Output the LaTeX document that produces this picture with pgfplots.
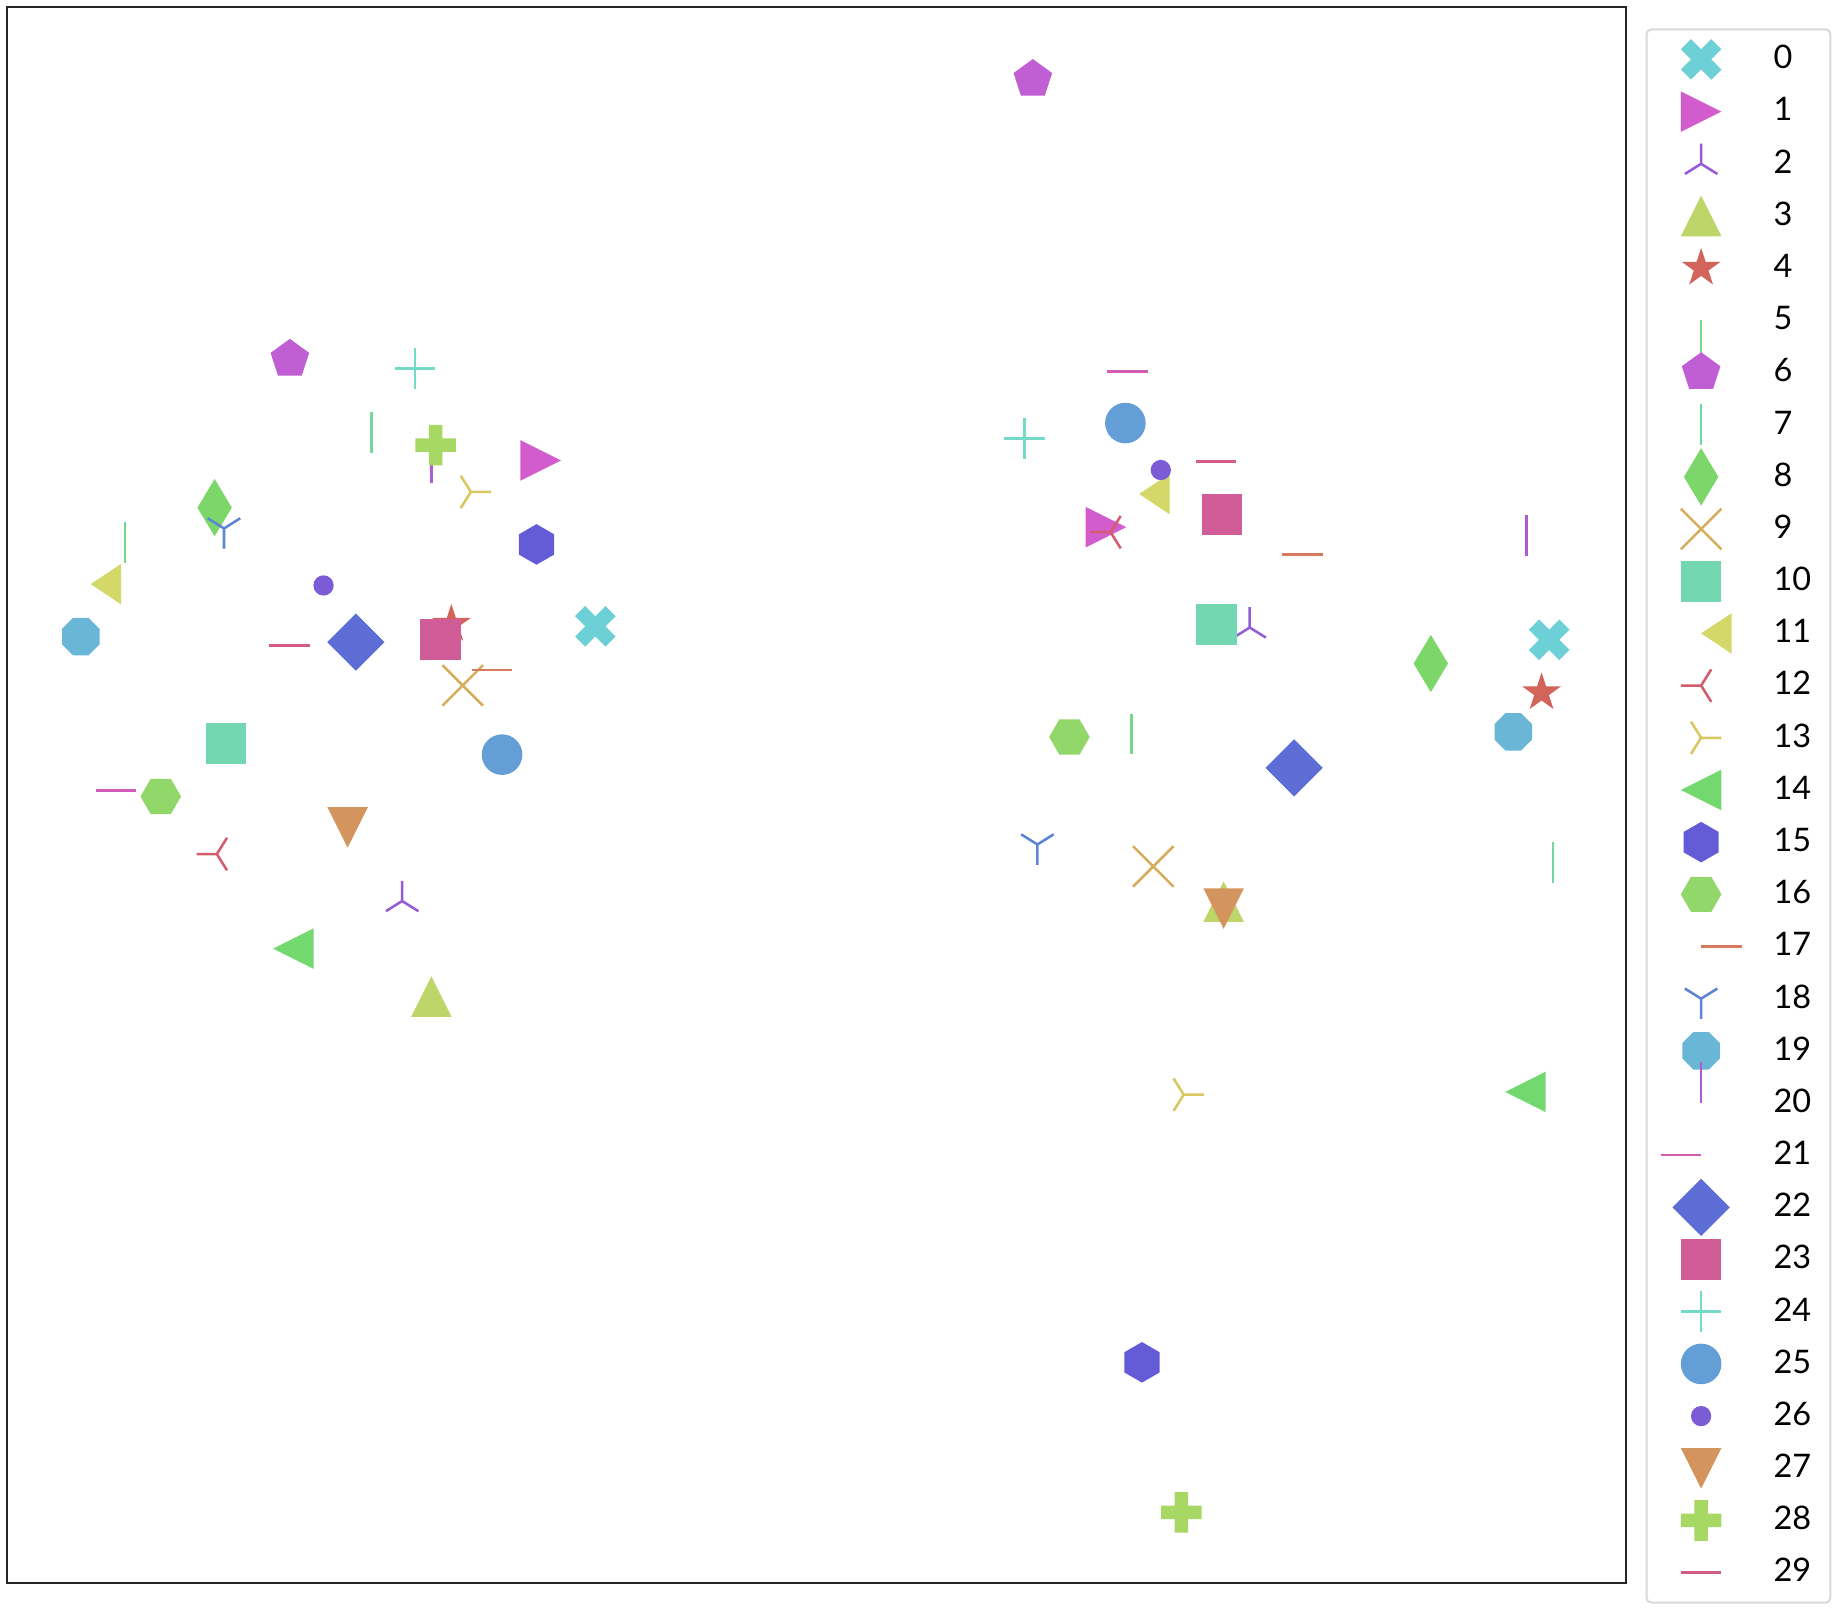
\documentclass[border=0pt]{standalone}
\usepackage{fontspec}
\setmainfont{Lato}
\usepackage{pgfplots}
\pgfplotsset{compat=1.18}

% hls palette, 30 hues
\definecolor{c0}{RGB}{110,208,215}
\definecolor{c1}{RGB}{210,92,205}
\definecolor{c2}{RGB}{148,92,214}
\definecolor{c3}{RGB}{190,214,105}
\definecolor{c4}{RGB}{210,100,92}
\definecolor{c5}{RGB}{115,216,135}
\definecolor{c6}{RGB}{192,94,212}
\definecolor{c7}{RGB}{115,216,155}
\definecolor{c8}{RGB}{125,214,105}
\definecolor{c9}{RGB}{214,173,92}
\definecolor{c10}{RGB}{115,216,178}
\definecolor{c11}{RGB}{212,216,105}
\definecolor{c12}{RGB}{212,92,109}
\definecolor{c13}{RGB}{218,199,98}
\definecolor{c14}{RGB}{115,216,110}
\definecolor{c15}{RGB}{99,92,214}
\definecolor{c16}{RGB}{145,215,105}
\definecolor{c17}{RGB}{214,124,92}
\definecolor{c18}{RGB}{92,133,214}
\definecolor{c19}{RGB}{105,182,214}
\definecolor{c20}{RGB}{173,92,214}
\definecolor{c21}{RGB}{210,92,182}
\definecolor{c22}{RGB}{92,109,214}
\definecolor{c23}{RGB}{208,92,152}
\definecolor{c24}{RGB}{115,218,200}
\definecolor{c25}{RGB}{100,158,214}
\definecolor{c26}{RGB}{124,92,214}
\definecolor{c27}{RGB}{212,148,94}
\definecolor{c28}{RGB}{168,216,100}
\definecolor{c29}{RGB}{210,92,130}

% matplotlib-like markers, unit = mark size (half of marker size)
\newcommand\mmv[2]{\pgfpathmoveto{\pgfqpoint{#1\pgfplotmarksize}{#2\pgfplotmarksize}}}
\newcommand\mlv[2]{\pgfpathlineto{\pgfqpoint{#1\pgfplotmarksize}{#2\pgfplotmarksize}}}
\pgfdeclareplotmark{mXf}{\mmv{-0.5}{-1}\mlv{0}{-0.5}\mlv{0.5}{-1}\mlv{1}{-0.5}\mlv{0.5}{0}\mlv{1}{0.5}\mlv{0.5}{1}\mlv{0}{0.5}\mlv{-0.5}{1}\mlv{-1}{0.5}\mlv{-0.5}{0}\mlv{-1}{-0.5}\pgfpathclose\pgfusepathqfill}
\pgfdeclareplotmark{mPf}{\mmv{-0.3333}{-1}\mlv{0.3333}{-1}\mlv{0.3333}{-0.3333}\mlv{1}{-0.3333}\mlv{1}{0.3333}\mlv{0.3333}{0.3333}\mlv{0.3333}{1}\mlv{-0.3333}{1}\mlv{-0.3333}{0.3333}\mlv{-1}{0.3333}\mlv{-1}{-0.3333}\mlv{-0.3333}{-0.3333}\pgfpathclose\pgfusepathqfill}
\pgfdeclareplotmark{mtriup}{\mmv{0}{1}\mlv{-1}{-1}\mlv{1}{-1}\pgfpathclose\pgfusepathqfill}
\pgfdeclareplotmark{mtridn}{\mmv{0}{-1}\mlv{-1}{1}\mlv{1}{1}\pgfpathclose\pgfusepathqfill}
\pgfdeclareplotmark{mtril}{\mmv{-1}{0}\mlv{1}{1}\mlv{1}{-1}\pgfpathclose\pgfusepathqfill}
\pgfdeclareplotmark{mtrir}{\mmv{1}{0}\mlv{-1}{1}\mlv{-1}{-1}\pgfpathclose\pgfusepathqfill}
\pgfdeclareplotmark{mcaretl}{\mmv{0}{0}\mlv{1.5}{1}\mlv{1.5}{-1}\pgfpathclose\pgfusepathqfill}
\pgfdeclareplotmark{mstar}{\mmv{0}{1}\mlv{-0.2245}{0.309}\mlv{-0.9511}{0.309}\mlv{-0.3633}{-0.118}\mlv{-0.5878}{-0.809}\mlv{0}{-0.382}\mlv{0.5878}{-0.809}\mlv{0.3633}{-0.118}\mlv{0.9511}{0.309}\mlv{0.2245}{0.309}\pgfpathclose\pgfusepathqfill}
\pgfdeclareplotmark{mpent}{\mmv{0}{1}\mlv{-0.9511}{0.309}\mlv{-0.5878}{-0.809}\mlv{0.5878}{-0.809}\mlv{0.9511}{0.309}\pgfpathclose\pgfusepathqfill}
\pgfdeclareplotmark{mhex}{\mmv{0}{1}\mlv{-0.866}{0.5}\mlv{-0.866}{-0.5}\mlv{0}{-1}\mlv{0.866}{-0.5}\mlv{0.866}{0.5}\pgfpathclose\pgfusepathqfill}
\pgfdeclareplotmark{mHex}{\mmv{1}{0}\mlv{0.5}{0.866}\mlv{-0.5}{0.866}\mlv{-1}{0}\mlv{-0.5}{-0.866}\mlv{0.5}{-0.866}\pgfpathclose\pgfusepathqfill}
\pgfdeclareplotmark{moct}{\mmv{0.9239}{0.3827}\mlv{0.3827}{0.9239}\mlv{-0.3827}{0.9239}\mlv{-0.9239}{0.3827}\mlv{-0.9239}{-0.3827}\mlv{-0.3827}{-0.9239}\mlv{0.3827}{-0.9239}\mlv{0.9239}{-0.3827}\pgfpathclose\pgfusepathqfill}
\pgfdeclareplotmark{mdiam}{\mmv{1.4142}{0}\mlv{0}{1.4142}\mlv{-1.4142}{0}\mlv{0}{-1.4142}\pgfpathclose\pgfusepathqfill}
\pgfdeclareplotmark{mthin}{\mmv{0.8485}{0}\mlv{0}{1.4142}\mlv{-0.8485}{0}\mlv{0}{-1.4142}\pgfpathclose\pgfusepathqfill}
\pgfdeclareplotmark{msq}{\mmv{-1}{-1}\mlv{1}{-1}\mlv{1}{1}\mlv{-1}{1}\pgfpathclose\pgfusepathqfill}
\pgfdeclareplotmark{mcirc}{\pgfpathcircle{\pgfpointorigin}{\pgfplotmarksize}\pgfusepathqfill}
\pgfdeclareplotmark{mpoint}{\pgfpathcircle{\pgfpointorigin}{0.5\pgfplotmarksize}\pgfusepathqfill}
\pgfdeclareplotmark{mx}{\mmv{-1}{-1}\mlv{1}{1}\mmv{-1}{1}\mlv{1}{-1}\pgfusepathqstroke}
\pgfdeclareplotmark{mplus}{\mmv{-1}{0}\mlv{1}{0}\mmv{0}{-1}\mlv{0}{1}\pgfusepathqstroke}
\pgfdeclareplotmark{mvline}{\mmv{0}{-1}\mlv{0}{1}\pgfusepathqstroke}
\pgfdeclareplotmark{mhline}{\mmv{-1}{0}\mlv{1}{0}\pgfusepathqstroke}
\pgfdeclareplotmark{mtickl}{\mmv{0}{0}\mlv{-2}{0}\pgfusepathqstroke}
\pgfdeclareplotmark{mtickr}{\mmv{0}{0}\mlv{2}{0}\pgfusepathqstroke}
\pgfdeclareplotmark{mticku}{\mmv{0}{0}\mlv{0}{2}\pgfusepathqstroke}
\pgfdeclareplotmark{mtickd}{\mmv{0}{0}\mlv{0}{-2}\pgfusepathqstroke}
\pgfdeclareplotmark{mYdn}{\mmv{0}{0}\mlv{0}{-1}\mmv{0}{0}\mlv{0.8}{0.5}\mmv{0}{0}\mlv{-0.8}{0.5}\pgfusepathqstroke}
\pgfdeclareplotmark{mYup}{\mmv{0}{0}\mlv{0}{1}\mmv{0}{0}\mlv{0.8}{-0.5}\mmv{0}{0}\mlv{-0.8}{-0.5}\pgfusepathqstroke}
\pgfdeclareplotmark{mYl}{\mmv{0}{0}\mlv{-1}{0}\mmv{0}{0}\mlv{0.5}{0.8}\mmv{0}{0}\mlv{0.5}{-0.8}\pgfusepathqstroke}
\pgfdeclareplotmark{mYr}{\mmv{0}{0}\mlv{1}{0}\mmv{0}{0}\mlv{-0.5}{0.8}\mmv{0}{0}\mlv{-0.5}{-0.8}\pgfusepathqstroke}

\pgfplotsset{
  sc/.style={only marks, mark size=4.94pt, line width=0.62pt,
    legend image code/.code={\path (-0.36cm,0cm) (0.61cm,0cm);
      \draw[##1, sharp corners, overlay] plot coordinates {(0cm,0.08cm)};}},
}
\newcommand\lgd[1]{\makebox[3.9mm][l]{#1}}

\begin{document}
\begin{tikzpicture}
\begin{axis}[
    scale only axis,
    width=13.856cm, height=13.491cm,
    xmin=5.7, xmax=1391.3, ymin=6, ymax=1355.1,
    y dir=reverse,
    xtick=\empty, ytick=\empty,
    axis line style={line width=0.5pt, black!85},
    clip=false,
    legend style={at={(axis cs:1408.5,24.3)}, anchor=north west,
      draw=black!15, line width=0.5pt, rounded corners=1.1pt, fill=white,
      inner xsep=0.095cm, inner ysep=0.0335cm, row sep=0pt, column sep=0pt,
      cells={anchor=base west},
      nodes={inner sep=0pt, text height=3.035mm, text depth=1.431mm},
      font=\fontsize{7.9}{9}\selectfont},
]
\addplot[sc, color=c0, mark=mXf] coordinates {(509.5,536.1) (1325.9,547.6)}; \addlegendentry{\lgd{0}}
\addplot[sc, color=c1, mark=mtrir] coordinates {(462.7,394.1) (946.6,451.2)}; \addlegendentry{\lgd{1}}
\addplot[sc, color=c2, mark=mYup] coordinates {(344.2,771.2) (1069.6,537.1)}; \addlegendentry{\lgd{2}}
\addplot[sc, color=c3, mark=mtriup] coordinates {(369.2,853.0) (1047.3,771.7)}; \addlegendentry{\lgd{3}}
\addplot[sc, color=c4, mark=mstar] coordinates {(386.3,534.3) (1319.4,592.9)}; \addlegendentry{\lgd{4}}
\addplot[sc, color=c5, mark=mtickd] coordinates {(107,447) (968.4,610.7)}; \addlegendentry{\lgd{5}}
\addplot[sc, color=c6, mark=mpent] coordinates {(248.1,307.4) (884.0,67.9)}; \addlegendentry{\lgd{6}}
\addplot[sc, color=c7, mark=mvline] coordinates {(318,370.2) (1329.1,738)}; \addlegendentry{\lgd{7}}
\addplot[sc, color=c8, mark=mthin] coordinates {(183.7,434.5) (1224.6,567.9)}; \addlegendentry{\lgd{8}}
\addplot[sc, color=c9, mark=mx] coordinates {(396,586.7) (987.1,741.6)}; \addlegendentry{\lgd{9}}
\addplot[sc, color=c10, mark=msq] coordinates {(193.3,636.2) (1041.3,534.3)}; \addlegendentry{\lgd{10}}
\addplot[sc, color=c11, mark=mcaretl] coordinates {(77.6,500) (975,422.8)}; \addlegendentry{\lgd{11}}
\addplot[sc, color=c12, mark=mYl] coordinates {(185.6,731) (950.5,455.5)}; \addlegendentry{\lgd{12}}
\addplot[sc, color=c13, mark=mYr] coordinates {(403,421) (1013.1,936.9)}; \addlegendentry{\lgd{13}}
\addplot[sc, color=c14, mark=mtril] coordinates {(251.1,811.9) (1305.6,934.6)}; \addlegendentry{\lgd{14}}
\addplot[sc, color=c15, mark=mhex] coordinates {(459.2,466) (977.4,1166)}; \addlegendentry{\lgd{15}}
\addplot[sc, color=c16, mark=mHex] coordinates {(137.6,681.7) (915.3,630.8)}; \addlegendentry{\lgd{16}}
\addplot[sc, color=c17, mark=mtickr] coordinates {(403.6,573.6) (1097.4,474.8)}; \addlegendentry{\lgd{17}}
\addplot[sc, color=c18, mark=mYdn] coordinates {(191.7,452.3) (887.9,722.8)}; \addlegendentry{\lgd{18}}
\addplot[sc, color=c19, mark=moct] coordinates {(69.2,544.9) (1295.2,626.4)}; \addlegendentry{\lgd{19}}
\addplot[sc, color=c20, mark=mticku] coordinates {(369.3,413.8) (1306.6,475.9)}; \addlegendentry{\lgd{20}}
\addplot[sc, color=c21, mark=mtickl] coordinates {(116.6,676.4) (982.3,318)}; \addlegendentry{\lgd{21}}
\addplot[sc, color=c22, mark=mdiam] coordinates {(304.6,549.6) (1107.6,657.2)}; \addlegendentry{\lgd{22}}
\addplot[sc, color=c23, mark=msq] coordinates {(376.8,547.2) (1045.8,440.4)}; \addlegendentry{\lgd{23}}
\addplot[sc, color=c24, mark=mplus] coordinates {(355.3,315.3) (876.9,375.3)}; \addlegendentry{\lgd{24}}
\addplot[sc, color=c25, mark=mcirc] coordinates {(429.7,645.9) (963.2,362.1)}; \addlegendentry{\lgd{25}}
\addplot[sc, color=c26, mark=mpoint] coordinates {(276.9,501.1) (993.5,402.3)}; \addlegendentry{\lgd{26}}
\addplot[sc, color=c27, mark=mtridn] coordinates {(297.5,708.1) (1047.3,777.7)}; \addlegendentry{\lgd{27}}
\addplot[sc, color=c28, mark=mPf] coordinates {(372.9,381) (1011.1,1294.4)}; \addlegendentry{\lgd{28}}
\addplot[sc, color=c29, mark=mhline] coordinates {(248,552.6) (1040.9,394.9)}; \addlegendentry{\lgd{29}}
\path (axis cs:0,0) rectangle (axis cs:1568,1378);
\end{axis}
\end{tikzpicture}
\end{document}
